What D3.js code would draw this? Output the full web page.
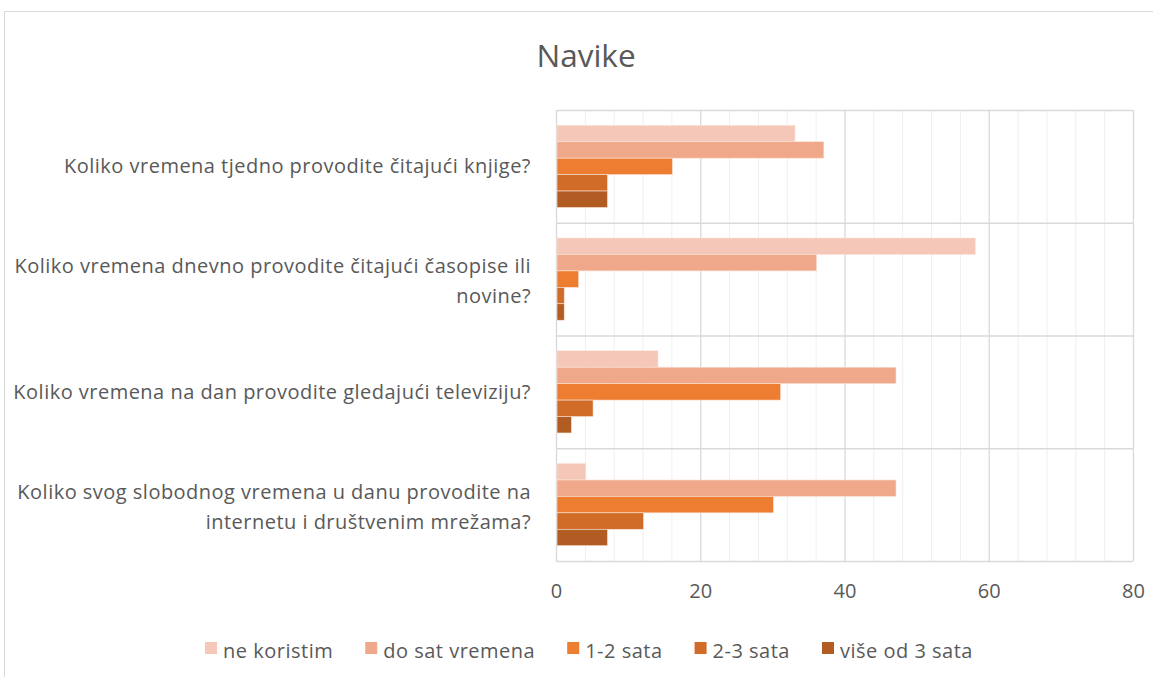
<!DOCTYPE html>
<html>
<head>
<meta charset="utf-8">
<script src="https://cdn.jsdelivr.net/npm/d3@7"></script>
<style>
  body { margin: 0; background: #fff; }
  svg text { font-family: "Open Sans", Lato, sans-serif; fill: #595959; }
</style>
</head>
<body>
<svg></svg>
<script>
var questions = [
  ["Koliko vremena tjedno provodite čitajući knjige?"],
  ["Koliko vremena dnevno provodite čitajući časopise ili", "novine?"],
  ["Koliko vremena na dan provodite gledajući televiziju?"],
  ["Koliko svog slobodnog vremena u danu provodite na", "internetu i društvenim mrežama?"]
];
var seriesNames = ["ne koristim", "do sat vremena", "1-2 sata", "2-3 sata", "više od 3 sata"];
var neKoristim = [33, 58, 14, 4];
var doSat = [37, 36, 47, 47];
var jedanDva = [16, 3, 31, 30];
var dvaTri = [7, 1, 5, 12];
var viseOdTri = [7, 1, 2, 7];
var xTicks = [0, 20, 40, 60, 80];

var seriesValues = [neKoristim, doSat, jedanDva, dvaTri, viseOdTri];
var colors = ["#F4C7B8", "#F0A88A", "#ED7D31", "#D06B28", "#B05C22"];

var width = 1153;
var height = 677;

var svg = d3.select("svg")
    .attr("width", width)
    .attr("height", height);

// outer frame
svg.append("rect")
    .attr("x", 4.5)
    .attr("y", 11.5)
    .attr("width", width + 10)
    .attr("height", height + 10)
    .attr("fill", "none")
    .attr("stroke", "#D9D9D9");

var x = d3.scaleLinear()
    .domain([0, 80])
    .range([556, 1133]);

var y = d3.scaleBand()
    .domain(d3.range(questions.length))
    .range([110, 561]);

var inner = d3.scaleBand()
    .domain(d3.range(seriesNames.length))
    .range([0, y.bandwidth()])
    .paddingOuter(0.93)
    .paddingInner(0);

// minor grid
svg.append("g")
  .selectAll("line")
  .data(d3.range(0, 81, 4).filter(d => d % 20 !== 0))
  .enter()
  .append("line")
    .attr("x1", d => x(d) + 0.5)
    .attr("x2", d => x(d) + 0.5)
    .attr("y1", 110)
    .attr("y2", 561)
    .attr("stroke", "#EFEFEF")
    .attr("stroke-width", 1);

// major grid
svg.append("g")
  .selectAll("line")
  .data(xTicks)
  .enter()
  .append("line")
    .attr("x1", d => x(d) + 0.5)
    .attr("x2", d => x(d) + 0.5)
    .attr("y1", 110)
    .attr("y2", 561)
    .attr("stroke", "#D9D9D9")
    .attr("stroke-width", 1.3);

// category separators
svg.append("g")
  .selectAll("line")
  .data(d3.range(questions.length + 1))
  .enter()
  .append("line")
    .attr("x1", 556)
    .attr("x2", 1133)
    .attr("y1", d => (d < questions.length ? y(d) : 561) + 0.5)
    .attr("y2", d => (d < questions.length ? y(d) : 561) + 0.5)
    .attr("stroke", "#D9D9D9")
    .attr("stroke-width", 1.3);

// bars
var groups = svg.append("g")
  .selectAll("g")
  .data(questions)
  .enter()
  .append("g")
    .attr("transform", (d, i) => "translate(0," + y(i) + ")");

groups.selectAll("rect")
  .data((d, i) => seriesValues.map((s, j) => ({series: j, value: s[i]})))
  .enter()
  .append("rect")
    .attr("x", x(0) + 1)
    .attr("y", d => inner(d.series))
    .attr("width", d => x(d.value) - x(0))
    .attr("height", inner.bandwidth())
    .attr("fill", d => colors[d.series])
    .attr("stroke", "#FBE3D6")
    .attr("stroke-width", 0.6);

// category labels
groups.each(function(lines) {
  var t = d3.select(this).append("text")
      .attr("text-anchor", "end")
      .attr("font-size", "20px")
      .attr("letter-spacing", "0.48px");
  var lh = 30;
  var start = y.bandwidth() / 2 - (lines.length - 1) * lh / 2 + (lines.length > 1 ? 9 : 7);
  lines.forEach(function(line, k) {
    t.append("tspan")
      .attr("x", 531)
      .attr("y", start + k * lh)
      .text(line);
  });
});

// x axis labels
var xAxis = d3.axisBottom(x)
    .tickValues(xTicks)
    .tickSize(0)
    .tickPadding(23);

var ax = svg.append("g")
    .attr("transform", "translate(0,561)")
    .call(xAxis);
ax.select(".domain").remove();
ax.selectAll("text")
    .attr("font-size", "20px")
    .style("font-family", "'Open Sans', Lato, sans-serif")
    .attr("fill", "#595959");

// title
svg.append("text")
    .attr("x", 586)
    .attr("y", 67)
    .attr("text-anchor", "middle")
    .attr("font-size", "31.5px")
    .text("Navike");

// legend
var legend = svg.append("g");
var items = legend.selectAll("g")
  .data(seriesNames)
  .enter()
  .append("g");
items.append("rect")
    .attr("width", 12)
    .attr("height", 12)
    .attr("y", -16)
    .attr("fill", (d, i) => colors[i]);
items.append("text")
    .attr("x", 18)
    .attr("font-size", "20px")
    .attr("letter-spacing", "0.5px")
    .text(d => d);

var pos = 0;
var gap = 32;
items.each(function() {
  var w = this.getBBox().width;
  d3.select(this).attr("transform", "translate(" + pos + ",658)");
  pos += w + gap;
});
var total = pos - gap;
legend.attr("transform", "translate(" + (589 - total / 2) + ",0)");
</script>
</body>
</html>
